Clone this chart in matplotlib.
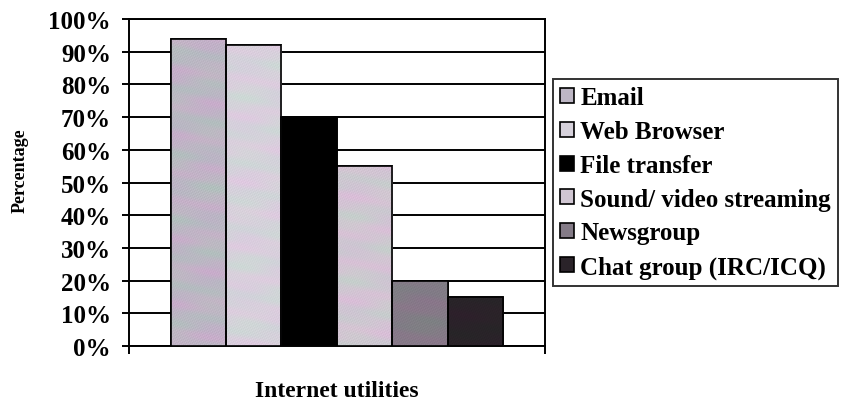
import matplotlib
matplotlib.use("Agg")
import matplotlib.pyplot as plt
import matplotlib.colors as mcolors
import numpy as np

utilities = ["Email", "Web Browser", "File transfer", "Sound/ video streaming",
             "Newsgroup", "Chat group (IRC/ICQ)"]
percent = [94, 92, 70, 55, 20, 15]
colors = ["#bdb6c4", "#d6d1db", "#000000", "#d0c6d2", "#847b87", "#2a2329"]
# strength of the printed fill pattern on each bar
grain = [1.0, 0.8, 0.0, 0.9, 0.6, 0.3]
yticks = [0, 10, 20, 30, 40, 50, 60, 70, 80, 90, 100]

plt.rcParams["font.family"] = ["Liberation Serif", "DejaVu Serif"]
plt.rcParams["font.weight"] = "bold"

fig = plt.figure(figsize=(8.44, 4.06), dpi=100)
ax = fig.add_axes([0.1528, 0.1453, 0.4929, 0.8054])

n = len(percent)
group = 0.8
w = group / n
xs = -group / 2 + w / 2 + w * np.arange(n)


def pattern(base, amount, rows, cols, phase):
    """Banded pastel fill (pink / lavender / green drift) around a base colour."""
    rgb = np.array(mcolors.to_rgb(base))
    yy, xx = np.mgrid[0:rows, 0:cols].astype(float)
    band1 = np.sin(yy / 5.3 + phase) + 0.4 * np.sin(yy / 2.1 + xx / 9.0 + 2 * phase)
    band2 = np.sin(yy / 9.1 + 1.3 * phase) * np.cos(xx / 13.0 + phase)
    fine = np.sin(xx * 2.1 + yy * 1.3) * np.sin(yy * 2.7 - xx * 0.9)
    pink = np.array([0.025, -0.015, 0.012])
    green = np.array([-0.012, 0.018, -0.012])
    img = (rgb + amount * (band1[..., None] * pink + band2[..., None] * green
                           + fine[..., None] * 0.03))
    return np.clip(img, 0, 1)


for i, (x, v, c, lab) in enumerate(zip(xs, percent, colors, utilities)):
    bar = ax.bar(x, v, width=w, color=c, edgecolor="black", linewidth=1.2,
                 label=lab, zorder=3)[0]
    if grain[i] > 0:
        rows = max(int(v * 3.3), 2)
        im = ax.imshow(pattern(c, grain[i], rows, 56, i * 1.7), origin="lower",
                       extent=[x - w / 2, x + w / 2, 0, v], aspect="auto",
                       interpolation="bilinear", zorder=3.5)
        im.set_clip_path(bar)
    ax.bar(x, v, width=w, facecolor="none", edgecolor="black", linewidth=1.2,
           zorder=4)

ax.set_xlim(-0.5, 0.5)
ax.set_ylim(0, 100)
ax.set_aspect("auto")
ax.set_yticks(yticks)
ax.set_yticklabels([f"{t}%" for t in yticks], fontsize=18, fontweight="bold")
ax.set_xticks([-0.5, 0.5])
ax.set_xticklabels(["", ""])
ax.tick_params(axis="y", length=5, width=1.4, direction="out", pad=8)
ax.tick_params(axis="x", length=6, width=1.4, direction="out")
ax.grid(axis="y", color="black", linewidth=1.4, zorder=0)
for s in ax.spines.values():
    s.set_linewidth(1.4)
    s.set_color("black")

ax.set_ylabel("Percentage", fontsize=13, fontweight="bold", va="center")
ax.yaxis.set_label_coords(-0.262, 0.54)
ax.set_xlabel("Internet utilities", fontsize=17, fontweight="bold", va="center")
ax.xaxis.set_label_coords(0.5, -0.135)

leg = fig.legend(loc="upper left", bbox_to_anchor=(0.655, 0.803),
                 bbox_transform=fig.transFigure, fontsize=18, frameon=True,
                 fancybox=False, edgecolor="black", handlelength=0.55,
                 handleheight=0.55, handletextpad=0.25, labelspacing=0.43,
                 borderpad=0.3, borderaxespad=0)
leg.get_frame().set_linewidth(1.4)
for t in leg.get_texts():
    t.set_fontweight("bold")

fig.savefig("out.png", dpi=100)
